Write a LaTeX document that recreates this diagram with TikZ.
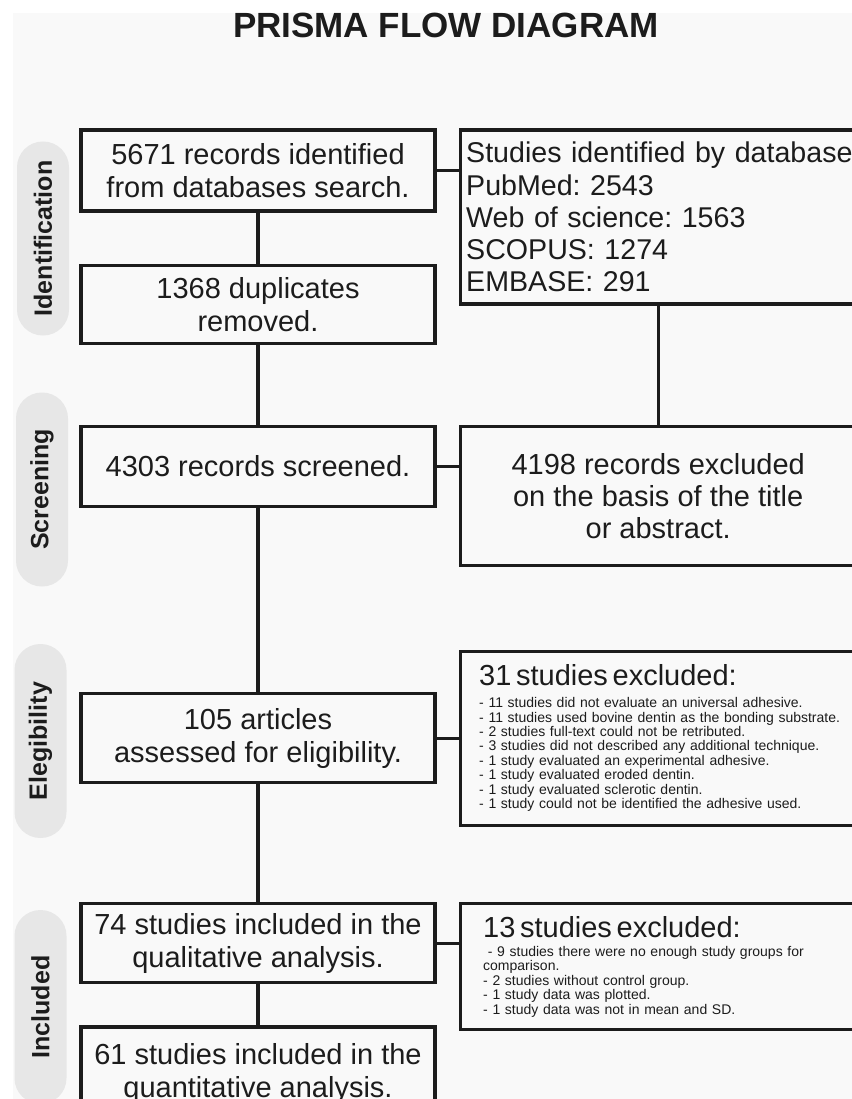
\documentclass[tikz,border=0pt]{standalone}
\usepackage{fontspec}
\setmainfont{Liberation Sans}
\usetikzlibrary{positioning}
\definecolor{pagegray}{RGB}{249,249,249}
\definecolor{pillgray}{RGB}{231,231,231}
\definecolor{inkdark}{RGB}{28,28,28}
\frenchspacing

\begin{document}
\begin{tikzpicture}[x=1pt, y=-1pt,
   stage/.style={draw=inkdark, line width=3.2pt, fill=pagegray, minimum width=354pt,
                 align=center, text=inkdark, inner sep=0pt, font=\fontsize{29}{33}\selectfont},
   side/.style={draw=inkdark, line width=3.2pt, fill=pagegray, minimum width=396pt,
                text=inkdark, inner sep=0pt, font=\fontsize{29}{32.2}\selectfont},
   phase/.style={fill=pillgray, rounded corners=25.9pt, rotate=90, minimum width=194pt,
                 minimum height=52pt, text=inkdark, font=\fontsize{25}{30}\selectfont\bfseries},
   link/.style={draw=inkdark, line width=3.2pt},
   node distance=51pt and 22pt]

 \useasboundingbox (0,0) rectangle (851,1099);
 \fill[pagegray] (13,13) rectangle (860,1110);

 \node[anchor=base, text=inkdark, font=\fontsize{35}{40}\selectfont\bfseries] (title) at (446,38) {PRISMA FLOW DIAGRAM};

 \node[phase] (identification) at (43,238.5) {Identification};
 \node[phase] (screening) at (42,489.5) {Screening};
 \node[phase] (eligibility) at (40.5,741) {Elegibility};
 \node[phase] (included) at (40.5,1007) {Included};

 \node[stage, minimum height=81pt] (records) at (258,170.5) {5671 records identified\\from databases search.};
 \node[stage, minimum height=78pt, below=of records] (duplicates) {1368 duplicates\\removed.};
 \node[stage, minimum height=80pt, below=80pt of duplicates] (screened) {4303 records screened.};
 \node[stage, minimum height=89pt, below=184pt of screened] (eligible) {105 articles\\assessed for eligibility.};
 \node[stage, minimum height=79pt, below=118pt of eligible] (qualitative) {74 studies included in the\\qualitative analysis.};
 \node[stage, minimum height=92pt, below=41pt of qualitative] (quantitative) {61 studies included in the\\quantitative analysis.};

 \node[side, minimum height=174pt, inner xsep=6pt, text width=400pt, align=left,
       font=\fontsize{28.6}{32.2}\selectfont,
       right=of records.north east, anchor=north west] (databases)
   {Studies identified by database\\PubMed: 2543\\Web of science: 1563\\SCOPUS: 1274\\EMBASE: 291};
 \node[side, minimum height=139pt, align=center,
       right=of screened.north east, anchor=north west] (titleabstract)
   {4198 records excluded\\on the basis of the title\\or abstract.};
 \node[side, minimum height=174pt, inner xsep=19pt, text width=380pt, align=left,
       font=\fontsize{14}{14.4}\selectfont, right=of eligible] (fulltext)
   {{\fontsize{29}{33}\selectfont 31 studies excluded:\par}\vspace{7.6pt}
    - 11 studies did not evaluate an universal adhesive.\\
    - 11 studies used bovine dentin as the bonding substrate.\\
    - 2 studies full-text could not be retributed.\\
    - 3 studies did not described any additional technique.\\
    - 1 study evaluated an experimental adhesive.\\
    - 1 study evaluated eroded dentin.\\
    - 1 study evaluated sclerotic dentin.\\
    - 1 study could not be identified the adhesive used.\par};
 \node[side, minimum height=126pt, inner xsep=23pt, text width=380pt, align=left,
       font=\fontsize{14}{14.4}\selectfont, right=of qualitative.north east, anchor=north west] (synthesis)
   {{\fontsize{29}{33}\selectfont 13 studies excluded:\par}\vspace{4.6pt}
    \ - 9 studies there were no enough study groups for\\
    comparison.\\
    - 2 studies without control group.\\
    - 1 study data was plotted.\\
    - 1 study data was not in mean and SD.\par};

 \draw[link] (records) -- (duplicates);
 \draw[link] (duplicates) -- (screened);
 \draw[link] (screened) -- (eligible);
 \draw[link] (eligible) -- (qualitative);
 \draw[link] (qualitative) -- (quantitative);
 \draw[link] (records.east) -- (records.east -| databases.west);
 \draw[link] (databases.south -| titleabstract.north) -- (titleabstract.north);
 \draw[link] (screened.east) -- (screened.east -| titleabstract.west);
 \draw[link] (eligible) -- (fulltext);
 \draw[link] (qualitative.east) -- (qualitative.east -| synthesis.west);
\end{tikzpicture}
\end{document}
